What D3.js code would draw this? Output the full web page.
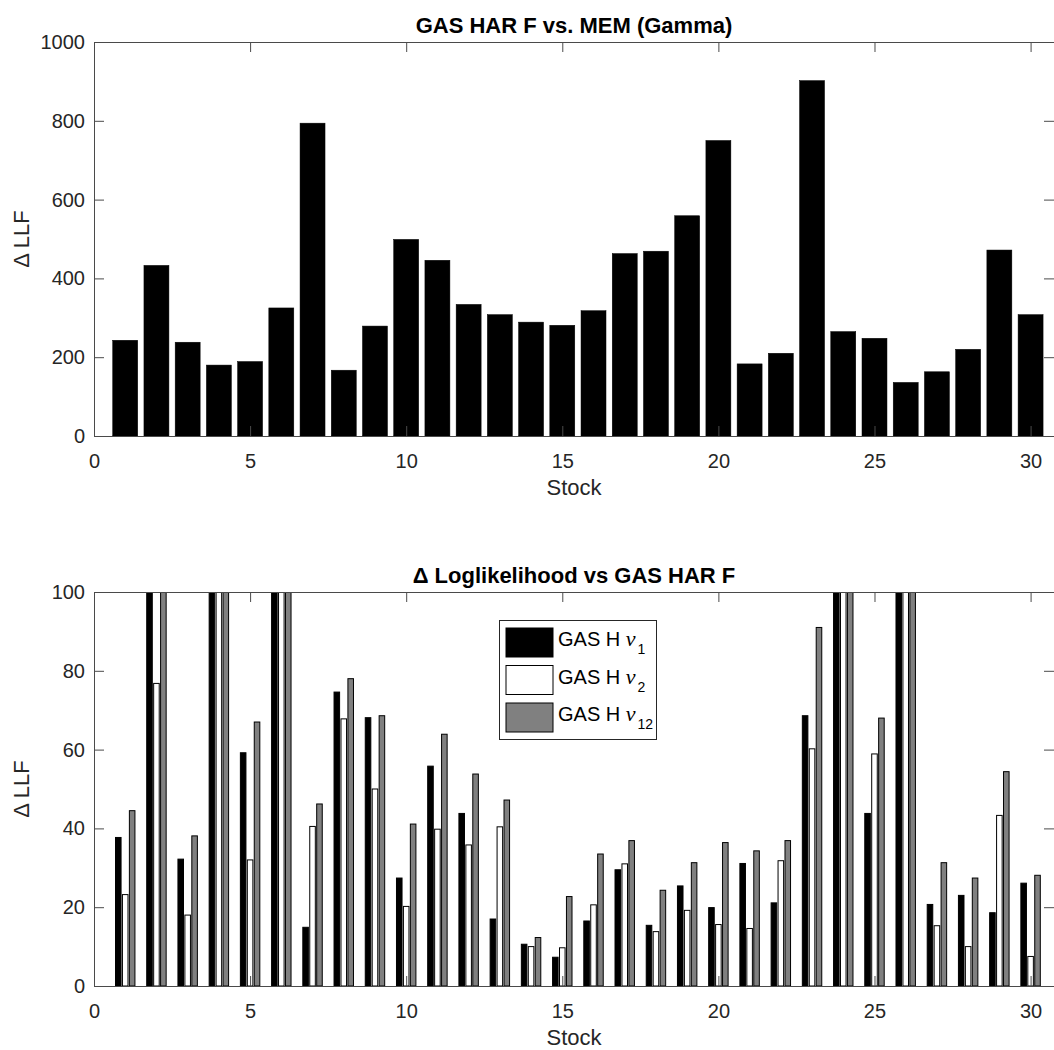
<!DOCTYPE html>
<html>
<head>
<meta charset="utf-8">
<script src="https://cdn.jsdelivr.net/npm/d3@7"></script>
<style>
  html, body { margin: 0; padding: 0; background: #fff; }
  svg { display: block; }
</style>
</head>
<body>
<script>
'use strict';

// stock numbers on the x axis
const stocks = [1, 2, 3, 4, 5, 6, 7, 8, 9, 10, 11, 12, 13, 14, 15,
  16, 17, 18, 19, 20, 21, 22, 23, 24, 25, 26, 27, 28, 29, 30];

// top panel: GAS HAR F vs. MEM (Gamma)
const llfVsMem = [243, 433, 238, 180, 189, 325, 794, 167, 279, 499,
  446, 334, 308, 289, 281, 318, 463, 469, 559, 750,
  183, 210, 902, 265, 248, 136, 163, 220, 472, 308];

// bottom panel: delta loglikelihood vs GAS HAR F
// (values above 100 are off the chart in the original, drawn clipped)
const nu1 = [37.7, 140, 32.2, 140, 59.2, 140, 14.9, 74.6, 68.1, 27.4,
  55.8, 43.8, 17.0, 10.6, 7.3, 16.5, 29.5, 15.4, 25.4, 19.9,
  31.1, 21.1, 68.6, 140, 43.8, 140, 20.7, 23.0, 18.6, 26.1];
const nu2 = [23.2, 76.8, 18.0, 140, 32.0, 140, 40.5, 67.8, 50.0, 20.2,
  39.8, 35.8, 40.4, 10.0, 9.7, 20.6, 31.0, 13.8, 19.2, 15.6,
  14.6, 31.8, 60.2, 140, 58.9, 140, 15.3, 10.0, 43.3, 7.5];
const nu12 = [44.5, 140, 38.1, 140, 67.0, 140, 46.2, 78.0, 68.6, 41.1,
  63.9, 53.8, 47.2, 12.3, 22.7, 33.5, 36.9, 24.3, 31.3, 36.4,
  34.3, 36.9, 91.0, 140, 68.0, 140, 31.3, 27.4, 54.4, 28.1];

const seriesSubs = ['1', '2', '12'];
const seriesFills = ['#000000', '#ffffff', '#808080'];

const xTicks = [0, 5, 10, 15, 20, 25, 30];
const yTicksTop = [0, 200, 400, 600, 800, 1000];
const yTicksBottom = [0, 20, 40, 60, 80, 100];

(function() {

  const FONT = "'Liberation Sans', Arial, Helvetica, sans-serif";
  const AXIS_COLOR = '#4a4a4a';
  const TEXT_COLOR = '#262626';
  let svg = '';

  window.onload = function() {
    svg = d3.select('body')
      .append('svg')
      .attr('width', 1054)
      .attr('height', 1050);

    svg.append('rect')
      .attr('width', 1054)
      .attr('height', 1050)
      .attr('fill', '#fff');

    makeTopChart();
    makeBottomChart();
  };

  // single series bar chart
  function makeTopChart() {
    let box = { left: 94, right: 1054, top: 42, bottom: 436 };
    let scales = makeScales(box, [0, 1000]);
    let g = clippedGroup(box, 'clipTop');

    g.selectAll('.bar')
      .data(stocks)
      .enter()
      .append('rect')
        .attr('x', (d) => scales.x(d - 0.4))
        .attr('width', (d) => scales.x(d + 0.4) - scales.x(d - 0.4))
        .attr('y', (d, i) => scales.y(llfVsMem[i]))
        .attr('height', (d, i) => scales.y(0) - scales.y(llfVsMem[i]))
        .attr('fill', '#000')
        .attr('stroke', '#000')
        .attr('stroke-width', 0.5);

    drawAxes(box, scales, yTicksTop);
    labels(box, 'GAS HAR F vs. MEM (Gamma)');
  }

  // grouped bar chart with three series
  function makeBottomChart() {
    let box = { left: 94, right: 1054, top: 592, bottom: 986 };
    let scales = makeScales(box, [0, 100]);
    let g = clippedGroup(box, 'clipBottom');

    let series = [nu1, nu2, nu12];
    let offsets = [-0.2222, 0, 0.2222];
    let half = 0.089;

    series.forEach((vals, s) => {
      g.append('g')
        .selectAll('rect')
        .data(stocks)
        .enter()
        .append('rect')
          .attr('x', (d) => scales.x(d + offsets[s] - half))
          .attr('width', (d) => scales.x(d + offsets[s] + half) - scales.x(d + offsets[s] - half))
          .attr('y', (d, i) => scales.y(vals[i]))
          .attr('height', (d, i) => scales.y(0) - scales.y(vals[i]))
          .attr('fill', seriesFills[s])
          .attr('stroke', '#000')
          .attr('stroke-width', 1);
    });

    drawAxes(box, scales, yTicksBottom);
    labels(box, '\u0394 Loglikelihood vs GAS HAR F');
    legend();
  }

  function makeScales(box, yDomain) {
    let x = d3.scaleLinear()
      .domain([0, 30.75])
      .range([box.left, box.right]);
    let y = d3.scaleLinear()
      .domain(yDomain)
      .range([box.bottom, box.top]);
    return { x: x, y: y };
  }

  function clippedGroup(box, id) {
    svg.append('clipPath')
      .attr('id', id)
      .append('rect')
        .attr('x', box.left)
        .attr('y', box.top)
        .attr('width', box.right - box.left)
        .attr('height', box.bottom - box.top);
    return svg.append('g').attr('clip-path', 'url(#' + id + ')');
  }

  // box with inward ticks on all four sides
  function drawAxes(box, scales, yTicks) {
    let bottom = svg.append('g')
      .attr('transform', 'translate(0,' + box.bottom + ')')
      .call(d3.axisBottom(scales.x).tickValues(xTicks).tickSize(-10)
        .tickSizeOuter(0).tickPadding(17.5).tickFormat(d3.format('d')));

    let top = svg.append('g')
      .attr('transform', 'translate(0,' + box.top + ')')
      .call(d3.axisTop(scales.x).tickValues(xTicks).tickSize(-10)
        .tickSizeOuter(0).tickFormat(''));

    let left = svg.append('g')
      .attr('transform', 'translate(' + box.left + ',0)')
      .call(d3.axisLeft(scales.y).tickValues(yTicks).tickSize(-10)
        .tickSizeOuter(0).tickPadding(9).tickFormat(d3.format('d')));

    let right = svg.append('g')
      .attr('transform', 'translate(' + box.right + ',0)')
      .call(d3.axisRight(scales.y).tickValues(yTicks).tickSize(-10)
        .tickSizeOuter(0).tickFormat(''));

    [bottom, top, left, right].forEach((ax) => {
      ax.attr('font-family', FONT).attr('font-size', 20);
      ax.selectAll('path, line').attr('stroke', AXIS_COLOR);
      ax.selectAll('text').attr('fill', TEXT_COLOR);
    });
  }

  function labels(box, title) {
    let cx = (box.left + box.right) / 2;

    svg.append('text')
      .attr('x', cx)
      .attr('y', box.top - 9)
      .attr('text-anchor', 'middle')
      .attr('font-family', FONT)
      .attr('font-weight', 'bold')
      .attr('font-size', 22)
      .attr('fill', '#000')
      .text(title);

    svg.append('text')
      .attr('x', cx)
      .attr('y', box.bottom + 59)
      .attr('text-anchor', 'middle')
      .attr('font-family', FONT)
      .attr('font-size', 22)
      .attr('fill', TEXT_COLOR)
      .text('Stock');

    svg.append('text')
      .attr('transform', 'translate(29,' + ((box.top + box.bottom) / 2) + ')rotate(-90)')
      .attr('text-anchor', 'middle')
      .attr('font-family', FONT)
      .attr('font-size', 22)
      .attr('fill', TEXT_COLOR)
      .text('\u0394 LLF');
  }

  function legend() {
    let lg = svg.append('g');

    lg.append('rect')
      .attr('x', 499.5)
      .attr('y', 620.5)
      .attr('width', 157)
      .attr('height', 119)
      .attr('fill', '#fff')
      .attr('stroke', TEXT_COLOR)
      .attr('stroke-width', 1);

    seriesSubs.forEach((sub, i) => {
      let y0 = 628 + i * 37.5;
      lg.append('rect')
        .attr('x', 506)
        .attr('y', y0)
        .attr('width', 47)
        .attr('height', 29)
        .attr('fill', seriesFills[i])
        .attr('stroke', '#000')
        .attr('stroke-width', 1);

      let t = lg.append('text')
        .attr('x', 558)
        .attr('y', y0 + 18)
        .attr('font-family', FONT)
        .attr('font-size', 20)
        .attr('fill', '#000');
      t.append('tspan').text('GAS H ');
      t.append('tspan')
        .attr('font-family', "'Liberation Serif', 'DejaVu Serif', serif")
        .attr('font-style', 'italic')
        .attr('font-size', 22)
        .text('\u03bd');
      t.append('tspan')
        .attr('dx', 2)
        .attr('dy', 8)
        .attr('font-size', 14)
        .text(sub);
    });
  }

})();
</script>
</body>
</html>
